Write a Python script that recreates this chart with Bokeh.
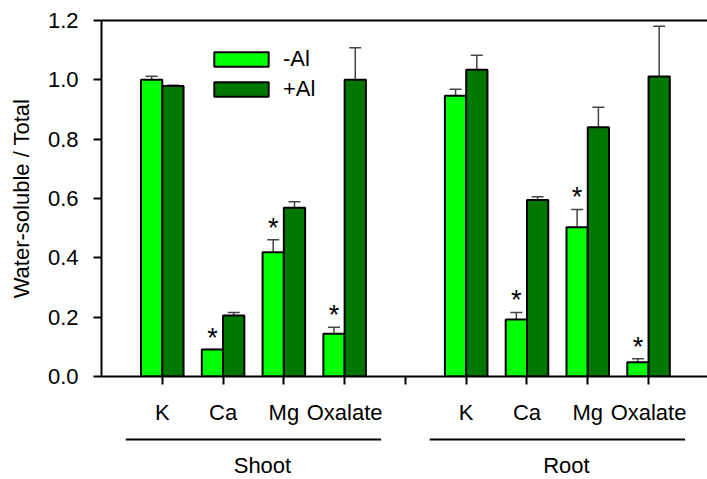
from bokeh.plotting import figure
from bokeh.models import (ColumnDataSource, Range1d, FixedTicker, LinearAxis, Whisker,
                          TeeHead, Legend, LegendItem, NumeralTickFormatter)
from bokeh.layouts import column
from bokeh.embed import file_html
from bokeh.resources import INLINE
from bokeh.core.properties import value

# ---------------- data ----------------
categories = ["K", "Ca", "Mg", "Oxalate"]
organs = ["Shoot", "Root"]
treatments = ["-Al", "+Al"]

shoot_minus_al = [1.000, 0.091, 0.419, 0.144]
shoot_minus_al_err = [0.012, 0.000, 0.042, 0.022]
shoot_plus_al = [0.979, 0.206, 0.569, 1.000]
shoot_plus_al_err = [0.003, 0.010, 0.020, 0.108]

root_minus_al = [0.946, 0.192, 0.503, 0.048]
root_minus_al_err = [0.022, 0.024, 0.060, 0.012]
root_plus_al = [1.034, 0.595, 0.840, 1.011]
root_plus_al_err = [0.049, 0.011, 0.068, 0.170]

shoot_significant = [False, True, True, True]
root_significant = [False, True, True, True]

y_ticks = [0.0, 0.2, 0.4, 0.6, 0.8, 1.0, 1.2]

# ---------------- layout helpers ----------------
FONT = "Liberation Sans"
FS = "22px"
BAR_W = 0.35
n = len(categories)
shoot_pos = [i + 1 for i in range(n)]
root_pos = [i + n + 2 for i in range(n)]
positions = shoot_pos + root_pos
all_ticks = list(range(1, 2 * n + 2))

minus_vals = shoot_minus_al + root_minus_al
minus_err = shoot_minus_al_err + root_minus_al_err
plus_vals = shoot_plus_al + root_plus_al
plus_err = shoot_plus_al_err + root_plus_al_err
signif = shoot_significant + root_significant

src_minus = ColumnDataSource(dict(
    x=[p - BAR_W / 2 for p in positions], top=minus_vals,
    upper=[v + e for v, e in zip(minus_vals, minus_err)]))
src_plus = ColumnDataSource(dict(
    x=[p + BAR_W / 2 for p in positions], top=plus_vals,
    upper=[v + e for v, e in zip(plus_vals, plus_err)]))
src_star = ColumnDataSource(dict(
    x=[p - BAR_W / 2 for p, s in zip(positions, signif) if s],
    y=[v + e for v, e, s in zip(minus_vals, minus_err, signif) if s],
    t=["*" for s in signif if s]))

W = 707
H1 = 427
H2 = 52

p = figure(width=W, height=H1, x_range=Range1d(0, 9.97), y_range=Range1d(0, 1.2),
           output_backend="svg", toolbar_location=None,
           min_border_left=101, min_border_right=0, min_border_top=20, min_border_bottom=50)
p.outline_line_color = None
p.xgrid.visible = False
p.ygrid.visible = False
p.background_fill_color = "white"
p.border_fill_color = "white"

for ax in (p.xaxis[0], p.yaxis[0]):
    ax.axis_line_width = 2
    ax.axis_line_color = "black"
    ax.major_tick_line_width = 2
    ax.major_tick_line_color = "black"
    ax.major_tick_out = 8
    ax.major_tick_in = 0
    ax.minor_tick_line_color = None
    ax.major_label_text_font = FONT
    ax.major_label_text_font_size = FS
    ax.major_label_text_color = "black"

p.xaxis.ticker = FixedTicker(ticks=all_ticks)
overrides = {}
for t in all_ticks:
    overrides[t] = ""
for c, ps in zip(categories, shoot_pos):
    overrides[ps] = c
for c, ps in zip(categories, root_pos):
    overrides[ps] = c
p.xaxis.major_label_overrides = overrides
p.xaxis.major_label_standoff = 15

p.yaxis.ticker = FixedTicker(ticks=y_ticks)
p.yaxis.formatter = NumeralTickFormatter(format="0.0")
p.yaxis.major_label_standoff = 15
p.yaxis.axis_label = "Water-soluble / Total"
p.yaxis.axis_label_text_font = FONT
p.yaxis.axis_label_text_font_size = FS
p.yaxis.axis_label_text_font_style = "normal"
p.yaxis.axis_label_text_color = "black"
p.yaxis.axis_label_standoff = 11

top_axis = LinearAxis(ticker=FixedTicker(ticks=[]), axis_line_width=2, axis_line_color="black",
                      major_tick_line_color=None, minor_tick_line_color=None,
                      major_label_text_font_size="0px", major_label_standoff=0)
p.add_layout(top_axis, "above")

wk_minus = Whisker(base="x", upper="upper", lower="top", source=src_minus, dimension="height",
                   line_color="#444444", line_width=1.5,
                   upper_head=TeeHead(size=12, line_color="#444444", line_width=1.5), lower_head=None)
wk_plus = Whisker(base="x", upper="upper", lower="top", source=src_plus, dimension="height",
                  line_color="#444444", line_width=1.5,
                  upper_head=TeeHead(size=12, line_color="#444444", line_width=1.5), lower_head=None)
p.add_layout(wk_minus)
p.add_layout(wk_plus)

r_minus = p.vbar(x="x", top="top", width=BAR_W, source=src_minus, fill_color="#00FF00",
                 line_color="black", line_width=2)
r_plus = p.vbar(x="x", top="top", width=BAR_W, source=src_plus, fill_color="#007800",
                line_color="black", line_width=2)

p.text(x="x", y="y", text="t", source=src_star, text_align="center",
       text_baseline="alphabetic", y_offset=-12, text_font=value(FONT),
       text_font_size="27px", text_color="black")

legend = Legend(items=[LegendItem(label=treatments[0], renderers=[r_minus]),
                       LegendItem(label=treatments[1], renderers=[r_plus])],
                location=(106, 274), glyph_width=68, glyph_height=18, label_standoff=8,
                spacing=4, padding=0, margin=0, border_line_color=None,
                background_fill_alpha=0, label_text_font=FONT, label_text_font_size=FS,
                label_text_color="black")
p.add_layout(legend)

# ---------------- group labels (below) ----------------
p2 = figure(width=W, height=H2, x_range=p.x_range, y_range=Range1d(H2, 0),
            output_backend="svg", toolbar_location=None,
            x_axis_location=None, y_axis_location=None,
            min_border_left=101, min_border_right=0, min_border_top=0, min_border_bottom=0)
p2.outline_line_color = None
p2.xgrid.visible = False
p2.ygrid.visible = False
p2.background_fill_color = "white"
p2.border_fill_color = "white"

groups = [shoot_pos, root_pos]
src_grp = ColumnDataSource(dict(
    x0=[g[0] - 0.6 for g in groups], x1=[g[-1] + 0.6 for g in groups],
    xc=[(g[0] + g[-1]) / 2 for g in groups], label=organs,
    yl=[12 for g in groups], yt=[38 for g in groups]))
p2.segment(x0="x0", y0="yl", x1="x1", y1="yl", source=src_grp, line_color="black", line_width=2)
p2.text(x="xc", y="yt", text="label", source=src_grp, text_align="center",
        text_baseline="middle", x_offset=9, text_font=value(FONT),
        text_font_size=FS, text_color="black")

layout = column(p, p2, spacing=0)
open("out.html", "w").write(file_html(layout, INLINE))
